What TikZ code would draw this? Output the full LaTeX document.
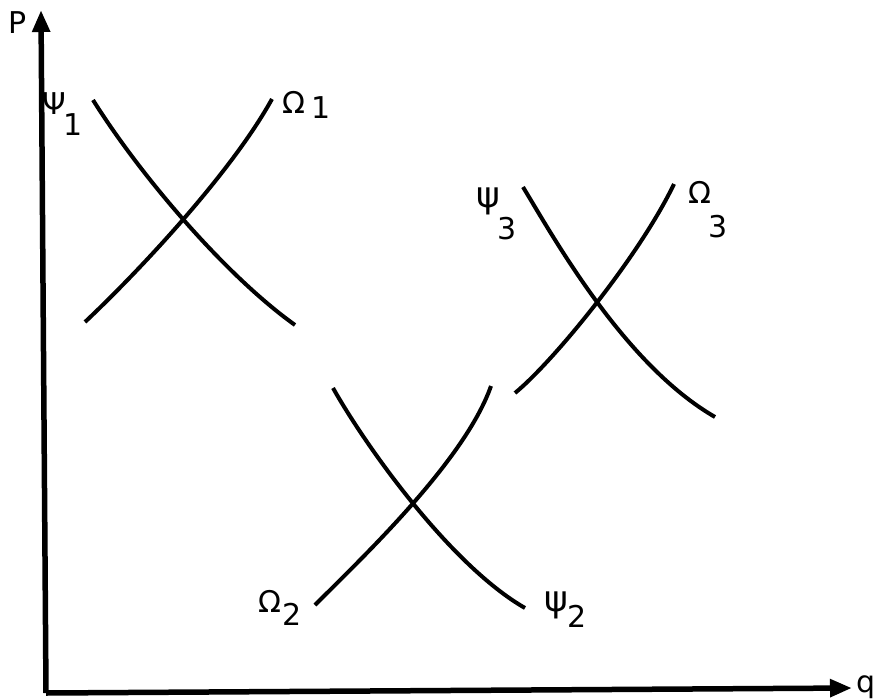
\documentclass[tikz,border=0pt]{standalone}
\usepackage{fontspec}
\setmainfont{DejaVu Sans}
\usetikzlibrary{arrows.meta}

\begin{document}
\begin{tikzpicture}[x=1pt, y=-1pt,
    lbl/.style = {inner sep=0pt, anchor=base, font=\fontsize{30}{32}\selectfont},
    smallpsi/.style = {lbl, font=\fontsize{36}{38}\selectfont},
    curve/.style = {line width=4pt},
    axis/.style = {line width=5.5pt, -{Triangle[length=22pt, width=17pt]}}]
    \useasboundingbox (0,0) rectangle (875,699);

    % Axes
    \coordinate (O) at (46,693);
    \coordinate (Ptop) at (41,10);
    \coordinate (qend) at (852,688);
    \draw[axis] (O) -- (Ptop);
    \draw[axis] (O) -- (qend);
    \node[lbl] (P) at (18,33) {P};
    \node[lbl] (q) at (866,692) {q};

    % First pair of curves
    \coordinate (A1) at (93,100);
    \coordinate (B1) at (295,325);
    \coordinate (C1) at (85,322);
    \coordinate (D1) at (272,99);
    \draw[curve] (A1) .. controls (140,175) and (225,275) .. (B1);
    \draw[curve] (C1) .. controls (135,275) and (230,175) .. (D1);
    \node[lbl] (psi1) at (54,114) {Ψ};
    \node[lbl] (psi1i) at (73,135) {1};
    \node[lbl] (om1) at (294,113) {Ω};
    \node[lbl] (om1i) at (321,118) {1};

    % Second pair of curves
    \coordinate (A2) at (333,388);
    \coordinate (B2) at (525,608);
    \coordinate (C2) at (315,605);
    \coordinate (D2) at (491,386);
    \draw[curve] (A2) .. controls (365,445) and (450,565) .. (B2);
    \draw[curve] (C2) .. controls (365,555) and (465,460) .. (D2);
    \node[lbl] (om2) at (270,612) {Ω};
    \node[lbl] (om2i) at (292,625) {2};
    \node[smallpsi] (psi2) at (556,611) {ψ};
    \node[lbl] (psi2i) at (577,627) {2};

    % Third pair of curves
    \coordinate (A3) at (523,187);
    \coordinate (B3) at (715,417);
    \coordinate (C3) at (515,393);
    \coordinate (D3) at (674,184);
    \draw[curve] (A3) .. controls (555,240) and (625,365) .. (B3);
    \draw[curve] (C3) .. controls (555,360) and (640,255) .. (D3);
    \node[smallpsi] (psi3) at (488,207) {ψ};
    \node[lbl] (psi3i) at (507,239) {3};
    \node[lbl] (om3) at (700,203) {Ω};
    \node[lbl] (om3i) at (718,237) {3};
\end{tikzpicture}
\end{document}
